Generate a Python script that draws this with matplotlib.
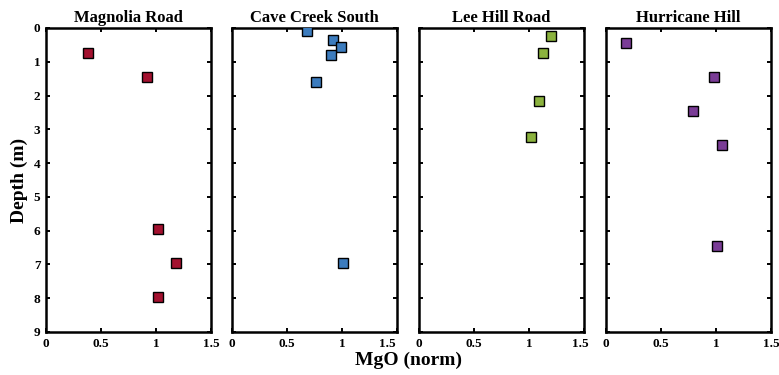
import matplotlib
matplotlib.use('Agg')
import matplotlib.pyplot as plt
from matplotlib.ticker import FixedLocator, FuncFormatter
from matplotlib.transforms import ScaledTranslation

plt.rcParams['font.family'] = ['Liberation Serif', 'DejaVu Serif']
plt.rcParams['font.weight'] = 'bold'

# MgO (normalised) vs sample depth at each site
sites = ['Magnolia Road', 'Cave Creek South', 'Lee Hill Road', 'Hurricane Hill']
colors = ['#A3112F', '#3C7CBE', '#8BB23E', '#7A3C96']

magnolia_mgo   = [0.38, 0.92, 1.02, 1.18, 1.02]
magnolia_depth = [0.75, 1.45, 5.95, 6.95, 7.95]

cave_mgo   = [0.68, 0.92, 0.99, 0.90, 0.76, 1.01]
cave_depth = [0.10, 0.36, 0.55, 0.81, 1.61, 6.97]

leehill_mgo   = [1.20, 1.13, 1.09, 1.02]
leehill_depth = [0.25, 0.74, 2.15, 3.24]

hurricane_mgo   = [0.18, 0.98, 0.79, 1.05, 1.01]
hurricane_depth = [0.45, 1.45, 2.45, 3.45, 6.45]

mgo_all   = [magnolia_mgo, cave_mgo, leehill_mgo, hurricane_mgo]
depth_all = [magnolia_depth, cave_depth, leehill_depth, hurricane_depth]

x_ticks = [0, 0.5, 1, 1.5]
y_ticks = list(range(10))


def _fmt(v, pos):
    return f'{v:g}'


fig = plt.figure(figsize=(7.79, 3.75), dpi=100)
lefts = [46, 232, 419, 606]
for i, (name, col) in enumerate(zip(sites, colors)):
    ax = fig.add_axes([lefts[i] / 779, 43 / 375, 165 / 779, 304 / 375])
    ax.plot(mgo_all[i], depth_all[i], linestyle='none', marker='s',
            markersize=7.2, markerfacecolor=col, markeredgecolor='black',
            markeredgewidth=1.0, zorder=3)
    ax.set_xlim(0, 1.5)
    ax.set_ylim(9, 0)
    ax.xaxis.set_major_locator(FixedLocator(x_ticks))
    ax.yaxis.set_major_locator(FixedLocator(y_ticks))
    ax.xaxis.set_major_formatter(FuncFormatter(_fmt))
    ax.tick_params(direction='in', length=3, width=1.4, labelsize=9.5,
                   top=True, right=True, pad=4)
    for s in ax.spines.values():
        s.set_linewidth(1.8)
    if i > 0:
        ax.set_yticklabels([])
    else:
        ax.set_ylabel('Depth (m)', fontsize=14, fontweight='bold', labelpad=4)
    for lab in ax.get_xticklabels() + ax.get_yticklabels():
        lab.set_fontweight('bold')
    # keep the right-hand "1.5" clear of the next panel's "0"
    if i in (1, 2):
        last = ax.get_xticklabels()[-1]
        dx = -7 / 72 if i == 1 else -3 / 72
        last.set_transform(last.get_transform() + ScaledTranslation(dx, 0, fig.dpi_scale_trans))
    ax.set_title(name, fontsize=12, fontweight='bold', pad=4)

fig.text(408 / 779, 1 - 365 / 375, 'MgO (norm)', fontsize=14,
         fontweight='bold', ha='center', va='baseline')

plt.savefig('out.png', dpi=100)
